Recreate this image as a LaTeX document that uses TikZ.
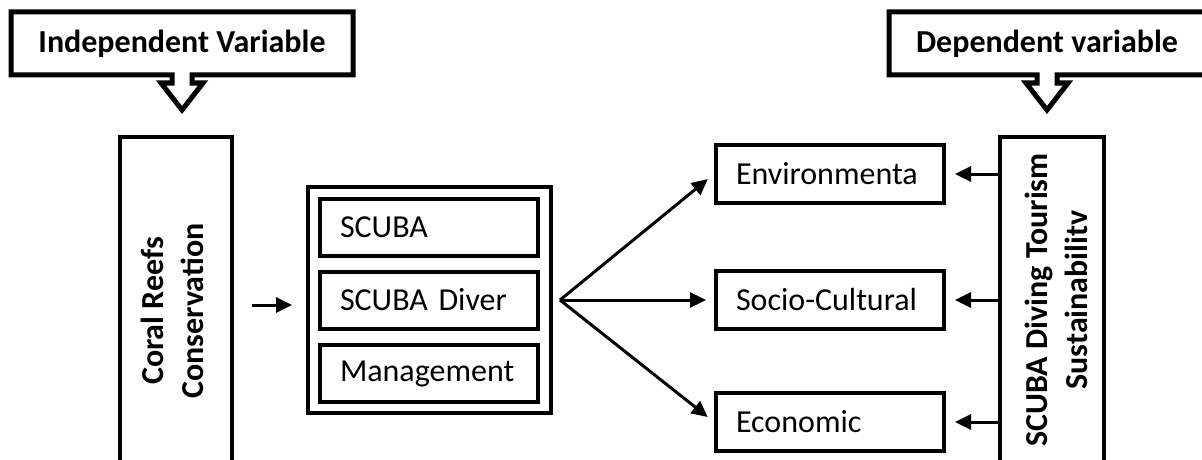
\documentclass[tikz,border=0pt]{standalone}
\usepackage{fontspec}
\setmainfont{Carlito}
\usetikzlibrary{arrows.meta,positioning}

\begin{document}
\begin{tikzpicture}[x=1pt, y=-1pt,
    box/.style={draw, line width=4pt, inner sep=0pt},
    item/.style={box, minimum height=57pt, text width=178pt, inner xsep=20pt,
      align=left, font=\fontsize{32}{38}\selectfont},
    bold/.style={font=\fontsize{32}{40}\selectfont\bfseries, align=center},
    callout/.style={line width=5pt, line join=miter},
    arr/.style={line width=3pt, -{Triangle[length=16pt,width=15pt]}}]
   \clip (0,0) rectangle (1202,460);
   \foreach \l/\r/\c in {11/353/182, 889/1205/1047}
     \draw[callout] (\l,12) -- (\r,12) -- (\r,75) -- (\c+10,75) -- (\c+10,83)
       -- (\c+21,83) -- (\c,110) -- (\c-21,83) -- (\c-10,83) -- (\c-10,75)
       -- (\l,75) -- cycle;
   \node[bold, anchor=base] (iv) at (182,53) {Independent Variable};
   \node[bold, anchor=base] (dv) at (1047,53) {Dependent variable};

   \node[box, minimum width=112pt, minimum height=336pt] (crc) at (176,305) {};
   \node[box, minimum width=104pt, minimum height=336pt] (sdt) at (1052,305) {};
   \node[bold, rotate=90] (crct) at (172,311) {Coral Reefs\\Conservation};
   \node[bold, rotate=90] (sdtt) at (1056,300) {SCUBA Diving Tourism\\Sustainabilitv};

   \node[box, minimum width=243pt, minimum height=226pt] (grp) at (429.5,300) {};
   \foreach \y/\n/\t in {227.5/scuba/SCUBA, 300/diver/SCUBA Diver, 373.5/mgmt/Management}
     \node[item] (\n) at (429,\y) {\t};

   \foreach \y/\n/\t in {174/env/Environmenta, 300/soc/Socio-Cultural, 422/eco/Economic}
     \node[item, text width=188pt, minimum height=58pt] (\n) at (830,\y) {\t};

   \coordinate[right=7pt of grp.east] (fan);
   \draw[arr, shorten <=18pt, shorten >=14pt] (crc.east) -- (crc.east -| grp.west);
   \foreach \n in {env,soc,eco} {
     \draw[arr, shorten >=8pt] (fan) -- (\n.west);
     \draw[arr, shorten >=9pt] (\n.east -| sdt.west) -- (\n.east);
   }
\end{tikzpicture}
\end{document}
